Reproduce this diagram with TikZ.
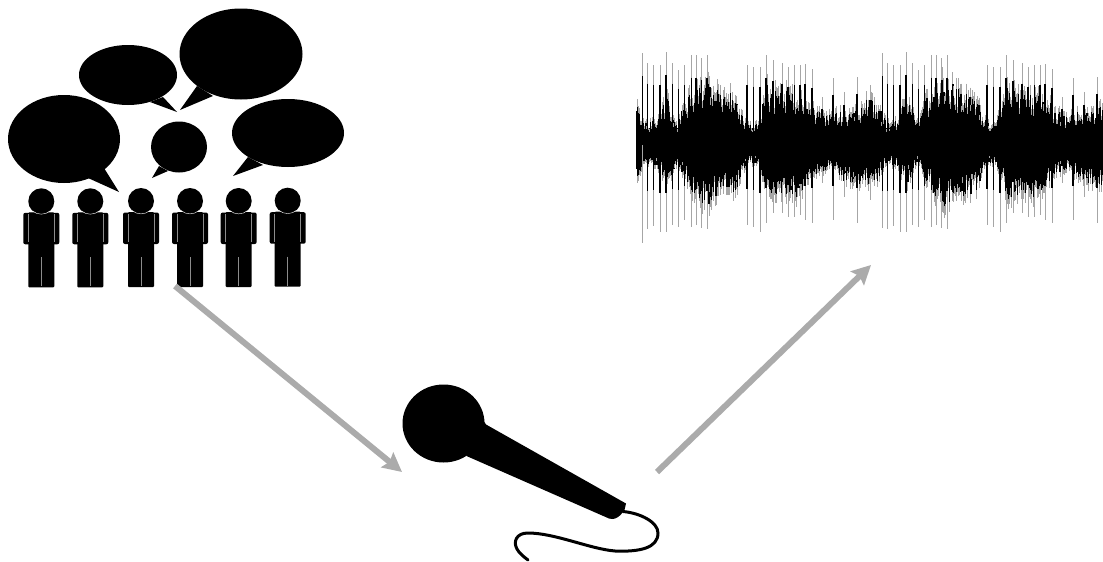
\documentclass[tikz,border=0pt]{standalone}
\usetikzlibrary{arrows.meta,calc}
\definecolor{flowgrey}{HTML}{ABABAB}
\definecolor{seamgrey}{HTML}{8C8C8C}
\def\waveup{{47,24,28,55,24,52,68,73,62,62,50,24,24,66,60,60,54,52,38,32,40,36,38,52,47}}
\def\wavedown{{42,22,24,45,22,42,62,72,58,58,52,20,22,62,60,56,60,46,32,28,36,44,46,46,42}}
\tikzset{
  flow/.style={-{Stealth[length=19pt,width=19pt,inset=3pt]}, draw=flowgrey, line width=6pt},
  speech/.style={fill=black, draw=none},
  seam/.style={draw=seamgrey, line width=0.6pt},
  cable/.style={draw=black, line width=3pt, line cap=round},
  hair/.style={draw=black!35, line width=0.9pt},
  hairdark/.style={draw=black, line width=1.2pt},
  person/.pic={
    \fill (0,0) circle (13);
    \fill[rounded corners=2pt] (-18,11.5) rectangle (18,43);
    \fill[rounded corners=1pt] (-13,11) rectangle (13,86);
    \draw[seam] (-13,13) -- (-13,41);
    \draw[seam] (13,13) -- (13,41);
    \draw[seam] (0,56) -- (0,85);
    \draw[draw=white, line width=0.4pt] (-9,9.5) .. controls (-4,14) and (4,14) .. (9,9.5);
  },
}
\begin{document}
\begin{tikzpicture}[x=1pt,y=-1pt]
\useasboundingbox (0,0) rectangle (1103,562);

% ---------------------------------------------------------------- speech bubbles
\fill[speech] (64,139) ellipse [x radius=56, y radius=44];
\fill[speech] (104,168) -- (119,192) -- (88,178) -- cycle;
\fill[speech] (128,75) ellipse [x radius=49, y radius=30];
\fill[speech] (163,97) -- (177,112) -- (150,102) -- cycle;
\fill[speech] (241,54) ellipse [x radius=61.5, y radius=45.5];
\fill[speech] (197,86) -- (180,110) -- (213,96) -- cycle;
\fill[speech] (179,147) ellipse [x radius=28, y radius=25.5];
\fill[speech] (159,166) -- (152,178) -- (168,171) -- cycle;
\fill[speech] (288,133) ellipse [x radius=56, y radius=34];
\fill[speech] (248,157) -- (233,176) -- (263,165) -- cycle;

% ---------------------------------------------------------------- people
\foreach \px/\py in {41.3/201.3, 90.3/201.3, 141/201, 190/201, 238.7/201, 287.7/200.7}
  \pic at (\px,\py) {person};

% ---------------------------------------------------------------- microphone
\fill (443.5,423.5) ellipse [x radius=41, y radius=39];
\fill (470,400) -- (486,424.5) -- (626,503.5) -- (624.5,510) -- (620.5,515)
  .. controls (617,518) and (614,520) .. (609,518.5) -- (466.5,456) -- cycle;
\coordinate (plug) at (623,511.5);
\draw[cable] (plug) .. controls (640,513) and (658,522) .. (658,533)
  .. controls (658,548) and (640,552) .. (615,551)
  .. controls (590,549) and (555,533) .. (528,533)
  .. controls (516,533) and (513,542) .. (517,549)
  .. controls (519,553) and (524,557) .. (528,560);

% ---------------------------------------------------------------- waveform
\pgfmathsetseed{41}
\fill (637,128) rectangle (1103,157);
\foreach \n in {0,...,518} {
  \pgfmathsetmacro\wx{\n*0.9}
  \pgfmathsetmacro\wm{mod(\wx,240)/10}
  \pgfmathtruncatemacro\wi{\wm}
  \pgfmathtruncatemacro\wj{\wi+1}
  \pgfmathsetmacro\wf{\wm-\wi}
  \pgfmathsetmacro\wua{\waveup[\wi]}
  \pgfmathsetmacro\wub{\waveup[\wj]}
  \pgfmathsetmacro\wda{\wavedown[\wi]}
  \pgfmathsetmacro\wdb{\wavedown[\wj]}
  \pgfmathsetmacro\wu{(\wua*(1-\wf)+\wub*\wf)*(0.55+0.45*rnd)}
  \pgfmathsetmacro\wd{(\wda*(1-\wf)+\wdb*\wf)*(0.55+0.45*rnd)}
  \draw[hair] (637+\wx,145-1.1*\wu) -- (637+\wx,145+1.05*\wd);
  \draw[hairdark] (637+\wx,145-0.92*\wu) -- (637+\wx,145+0.88*\wd);
}
\foreach \shift in {0,240} {
  \foreach \sx/\su/\sd in {5.3/92/83, 10.7/82/84, 16.7/80/81, 23/80/87, 29/93/87, 35.7/82/80,
      41.7/75/82, 47.7/80/75, 54.3/90/82, 59/90/80, 64.3/87/83, 70/90/84, 110/80/80,
      116.7/78/82, 123/78/87, 129/90/78, 136/85/68, 145/82/68, 151/78/72, 157.7/80/72,
      163/80/70, 168/81/75, 175/76/78, 185/48/38, 196/67/75, 207/53/52, 220/68/78, 233/60/55} {
    \draw[hair] (637+\shift+\sx,145-\su) -- (637+\shift+\sx,145+\sd);
    \draw[hairdark] (637+\shift+\sx,145-0.75*\su) -- (637+\shift+\sx,145+0.55*\sd);
  }
}
\draw[hair] (642.3,145) -- (642.3,243);

% ---------------------------------------------------------------- arrows
\coordinate (crowd) at (175,286);
\coordinate (micin) at (402,472);
\coordinate (micout) at (657,472);
\coordinate (wave) at (871,265);
\draw[flow] (crowd) -- (micin);
\draw[flow] (micout) -- (wave);

\end{tikzpicture}
\end{document}
